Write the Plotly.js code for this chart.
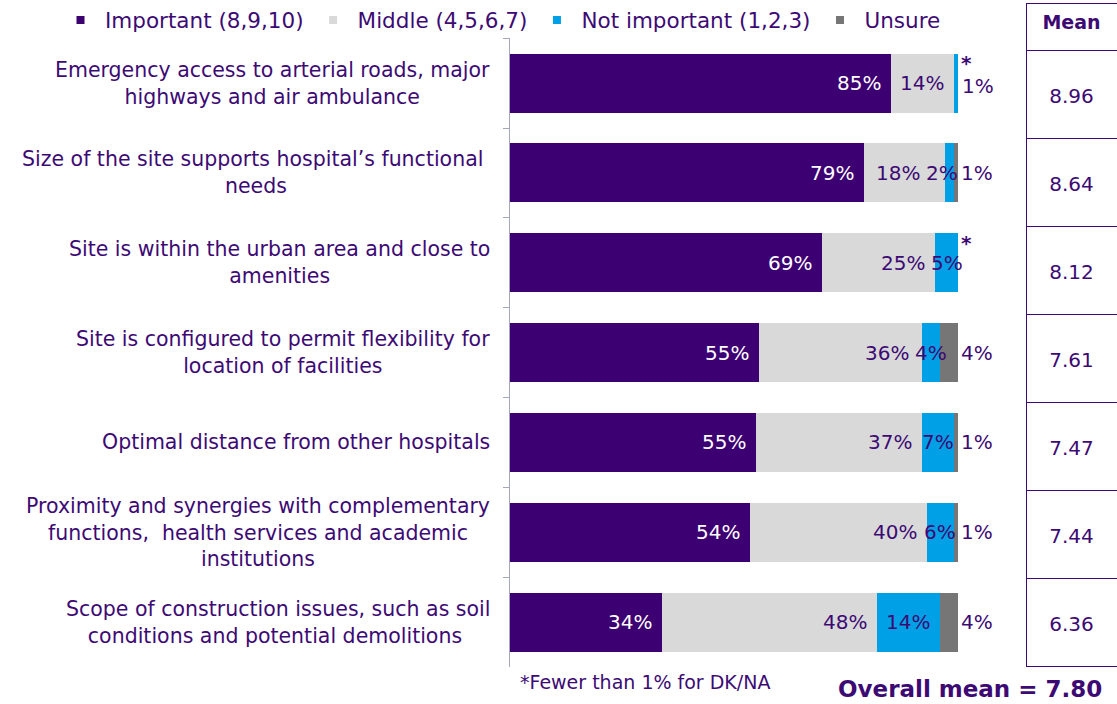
<!DOCTYPE html>
<html>
<head>
<meta charset="utf-8">
<script src="https://cdn.plot.ly/plotly-3.0.1.min.js"></script>
<style>html,body{margin:0;padding:0;background:#fff;}#chart{width:1117px;height:704px;}</style>
</head>
<body>
<div id="chart"></div>
<script>
// ---- data ----
const categories = [
  "Emergency access to arterial roads, major<br>highways and air ambulance",
  "Size of the site supports hospital’s functional <br>needs",
  "Site is within the urban area and close to<br>amenities",
  "Site is configured to permit flexibility for<br>location of facilities",
  "Optimal distance from other hospitals",
  "Proximity and synergies with complementary<br>functions,  health services and academic<br>institutions",
  "Scope of construction issues, such as soil<br>conditions and potential demolitions "
];
const seriesNames = ["Important (8,9,10)", "Middle (4,5,6,7)", "Not important (1,2,3)", "Unsure"];
const important    = [85, 79, 69, 55, 55, 54, 34];
const middle       = [14, 18, 25, 36, 37, 40, 48];
const notImportant = [1, 2, 5, 4, 7, 6, 14];
const unsure       = [null, 1, null, 4, 1, 1, 4];   // null = fewer than 1% (*)
const means        = [8.96, 8.64, 8.12, 7.61, 7.47, 7.44, 6.36];
const overallMean  = 7.80;
const meanHeader   = "Mean";
const footnote     = "*Fewer than 1% for DK/NA";

// ---- styles ----
const W = 1117, H = 704;
const FONT = "DejaVu Sans, Verdana, sans-serif";
const TXT = "#3d0a74";
const colors = ["#3c0073", "#d9d9d9", "#00a0e6", "#767676"];
const series = [important, middle, notImportant, unsure];
const xDom = [510 / W, 958 / W];
const pxPerPct = (xDom[1] - xDom[0]) * W / 100;
const plotH = H - 3 - 37;

const traces = [];
series.forEach((vals, k) => {
  traces.push({
    type: "bar", orientation: "h",
    x: vals.map(v => v === null ? 0 : v), y: categories,
    marker: {color: colors[k], line: {width: 0}},
    showlegend: false, hoverinfo: "skip", name: seriesNames[k]
  });
});
// legend entries (small square keys)
series.forEach((vals, k) => {
  traces.push({
    type: "scatter", mode: "markers", x: [null], y: [null],
    marker: {symbol: "square", size: 8, color: colors[k]},
    name: seriesNames[k], showlegend: true, hoverinfo: "skip"
  });
});
// Mean table
traces.push({
  type: "table",
  domain: {x: [1026 / W, 1], y: [0, 1]},
  columnwidth: [1],
  header: {
    values: ["<b>" + meanHeader + "</b>"], height: 47, align: "center",
    font: {family: FONT, size: 19, color: TXT},
    line: {color: TXT, width: 1}, fill: {color: "#ffffff"}
  },
  cells: {
    values: [means.map(v => "&nbsp;<br>" + v.toFixed(2))], height: 88, align: "center",
    font: {family: FONT, size: 20, color: TXT},
    line: {color: TXT, width: 1}, fill: {color: "#ffffff"}
  }
});

// ---- annotations ----
const ann = [];
const halfLab = 16 / pxPerPct;   // half width of a "N%" label, in %
categories.forEach((c, i) => {
  ann.push({
    xref: "paper", x: xDom[0], xanchor: "right", xshift: -18,
    yref: "y", y: c, yanchor: "middle", align: "center",
    text: c, showarrow: false, font: {family: FONT, size: 20.5, color: TXT}
  });
  const vals = series.map(s => s[i] === null ? 0 : s[i]);
  const tot = vals.reduce((a, b) => a + b, 0);
  const norm = vals.map(v => v / tot * 100);
  const cum = [];
  norm.reduce((a, v, k) => (cum[k] = a + v), 0);
  const lab = (x, txt, anchor, shift, col, ys) => ann.push({
    xref: "x", x: x, xanchor: anchor, xshift: shift, yref: "y", y: c, yshift: ys || 0,
    text: txt, showarrow: false, font: {family: FONT, size: 20, color: col}
  });
  lab(cum[0], important[i] + "%", "right", -8, "#ffffff");
  const ni = notImportant[i];
  let midRight = cum[1] - 8 / pxPerPct;
  if (ni >= 10) {
    lab(cum[2], ni + "%", "right", -8, TXT);
  } else if (ni < 2) {
    lab(cum[2], ni + "%", "left", 2, TXT, unsure[i] === null ? -3 : 0);
  } else {
    let cx = cum[1] + norm[2] / 2;
    if (unsure[i] !== null) cx = Math.min(cx, 100 - halfLab);
    lab(cx, ni + "%", "center", 0, TXT);
    midRight = Math.min(midRight, cx - halfLab - 4 / pxPerPct);
  }
  lab(midRight, middle[i] + "%", "right", 0, TXT);
  if (unsure[i] === null) {
    ann.push({xref: "x", x: 100, xanchor: "left", xshift: 1, yref: "y", y: c, yshift: 20,
      text: "<b>*</b>", showarrow: false, font: {family: FONT, size: 20, color: TXT}});
  } else {
    lab(100, unsure[i] + "%", "left", 1, TXT);
  }
});
ann.push({xref: "paper", x: xDom[0], xanchor: "left", xshift: 8, yref: "paper", y: 0, yanchor: "top", yshift: -2,
  text: footnote, showarrow: false, font: {family: FONT, size: 19, color: TXT}});
ann.push({xref: "paper", x: 1, xanchor: "right", xshift: -14, yref: "paper", y: -(689 - 667) / plotH, yanchor: "middle",
  borderpad: 0,
  text: "<b>Overall mean = " + overallMean.toFixed(2) + "</b>", showarrow: false,
  font: {family: FONT, size: 23, color: TXT}});

const layout = {
  width: W, height: H,
  margin: {l: 0, r: 0, t: 3, b: 37, pad: 0, autoexpand: false},
  paper_bgcolor: "#ffffff", plot_bgcolor: "#ffffff",
  barmode: "stack", barnorm: "percent", bargap: 0.343,
  font: {family: FONT, color: TXT},
  xaxis: {domain: xDom, range: [0, 100], visible: false, fixedrange: true},
  yaxis: {
    domain: [0, (667.4 - 38.6) / plotH], type: "category", categoryorder: "array", categoryarray: categories,
    range: [6.5, -0.5], showticklabels: false, ticks: "outside", tickson: "boundaries",
    ticklen: 6, tickcolor: "#a6a6bd", showline: true, linecolor: "#a6a6bd", linewidth: 1,
    showgrid: false, zeroline: false, fixedrange: true
  },
  showlegend: true,
  legend: {
    orientation: "h", traceorder: "normal", x: 56 / W, xanchor: "left", y: 1 - 17 / plotH, yanchor: "middle",
    itemwidth: 39,
    font: {family: FONT, size: 21.5, color: TXT}, bgcolor: "rgba(0,0,0,0)", borderwidth: 0,
    itemclick: false, itemdoubleclick: false
  },
  annotations: ann
};

Plotly.newPlot("chart", traces, layout, {displayModeBar: false, staticPlot: true});
</script>
</body>
</html>
